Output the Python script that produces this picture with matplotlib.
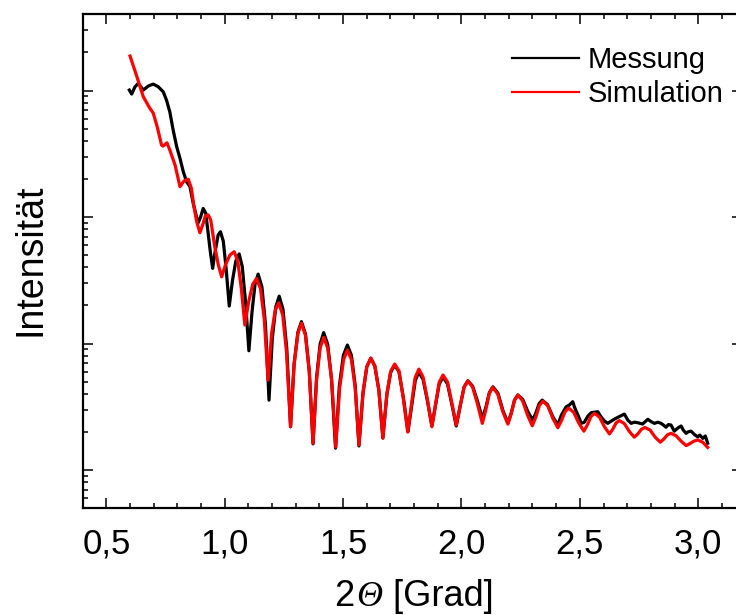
import matplotlib
matplotlib.use("Agg")
import matplotlib.pyplot as plt
from matplotlib.ticker import MultipleLocator, LogLocator, NullFormatter, FuncFormatter
from matplotlib.lines import Line2D
from matplotlib.offsetbox import TextArea, HPacker, AnnotationBbox

plt.rcParams['font.family'] = ['Liberation Sans', 'DejaVu Sans']

# Messung (measured curve), 2theta in degrees, intensity arbitrary units
x_mess = [0.597, 0.607, 0.621, 0.635, 0.656, 0.677, 0.698, 0.719, 0.740, 0.754,
          0.768, 0.782, 0.797, 0.811, 0.825, 0.839, 0.853, 0.867, 0.881, 0.888,
          0.898, 0.909, 0.920, 0.930, 0.940, 0.949, 0.958, 0.972, 0.982, 0.994,
          1.006, 1.019, 1.033, 1.047, 1.061, 1.074, 1.088, 1.102, 1.115, 1.128,
          1.141, 1.157, 1.172, 1.187, 1.201, 1.216, 1.230, 1.246, 1.262, 1.278,
          1.293, 1.309, 1.324, 1.341, 1.357, 1.373, 1.388, 1.403, 1.418, 1.435,
          1.451, 1.468, 1.484, 1.501, 1.518, 1.535, 1.551, 1.567, 1.584, 1.600,
          1.617, 1.634, 1.651, 1.668, 1.685, 1.701, 1.718, 1.736, 1.755, 1.774,
          1.790, 1.805, 1.820, 1.838, 1.857, 1.875, 1.891, 1.906, 1.922, 1.941,
          1.959, 1.978, 1.995, 2.011, 2.027, 2.047, 2.068, 2.088, 2.103, 2.118,
          2.133, 2.154, 2.175, 2.196, 2.210, 2.224, 2.238, 2.259, 2.280, 2.301,
          2.314, 2.328, 2.341, 2.363, 2.385, 2.407, 2.422, 2.442, 2.456, 2.470,
          2.479, 2.492, 2.506, 2.519, 2.534, 2.548, 2.562, 2.576, 2.589, 2.604,
          2.618, 2.633, 2.646, 2.667, 2.688, 2.703, 2.717, 2.730, 2.744, 2.765,
          2.787, 2.800, 2.815, 2.830, 2.843, 2.853, 2.864, 2.874, 2.885, 2.899,
          2.914, 2.928, 2.937, 2.949, 2.958, 2.970, 2.984, 2.998, 3.007, 3.019,
          3.030, 3.040]
y_mess = [1009, 938, 1072, 1140, 1009, 1086, 1125, 1072, 979, 841,
          679, 488, 360, 291, 228, 190, 174, 128, 100, 90.2,
          100, 117, 107, 74.3, 51.6, 39.3, 51.6, 72.1, 76.6, 64.3,
          38.9, 19.8, 31.8, 45.1, 51.1, 40.6, 21.2, 8.77, 17.6, 29.5,
          35.4, 28.1, 14.2, 3.57, 11.1, 19.6, 23.7, 18.7, 9.16, 2.20,
          6.92, 12.3, 14.9, 11.9, 6.11, 1.61, 5.42, 9.93, 12.2, 9.86,
          5.25, 1.49, 4.59, 8.05, 9.73, 8.09, 4.67, 1.55, 4.05, 6.55,
          7.67, 6.64, 4.29, 1.79, 3.97, 5.92, 6.76, 5.98, 3.69, 2.01,
          3.27, 5.12, 5.96, 5.19, 3.47, 2.23, 3.33, 4.80, 5.43, 4.80,
          3.33, 2.23, 3.23, 4.53, 5.08, 4.61, 3.49, 2.56, 3.13, 4.10,
          4.55, 4.05, 2.96, 2.36, 2.81, 3.57, 3.92, 3.61, 2.91, 2.48,
          2.82, 3.35, 3.57, 3.30, 2.66, 2.27, 2.72, 3.16, 3.27, 3.47,
          3.09, 2.72, 2.34, 2.39, 2.67, 2.84, 2.87, 2.89, 2.64, 2.44,
          2.34, 2.44, 2.53, 2.65, 2.77, 2.48, 2.34, 2.39, 2.37, 2.31,
          2.52, 2.42, 2.34, 2.39, 2.34, 2.27, 2.18, 2.29, 2.27, 2.03,
          2.15, 2.23, 2.07, 1.95, 2.01, 2.03, 1.91, 1.83, 1.89, 1.78,
          1.86, 1.63]

# Simulation
x_sim = [0.600, 0.628, 0.656, 0.684, 0.698, 0.716, 0.733, 0.739, 0.756, 0.768,
         0.790, 0.811, 0.828, 0.846, 0.859, 0.870, 0.882, 0.895, 0.908, 0.918,
         0.930, 0.941, 0.958, 0.973, 0.987, 1.004, 1.022, 1.040, 1.055, 1.070,
         1.085, 1.101, 1.118, 1.134, 1.151, 1.167, 1.183, 1.198, 1.213, 1.228,
         1.245, 1.261, 1.278, 1.293, 1.309, 1.324, 1.341, 1.357, 1.373, 1.388,
         1.403, 1.418, 1.435, 1.452, 1.469, 1.485, 1.502, 1.518, 1.535, 1.551,
         1.567, 1.584, 1.600, 1.617, 1.634, 1.651, 1.668, 1.685, 1.701, 1.718,
         1.736, 1.754, 1.773, 1.789, 1.804, 1.820, 1.838, 1.857, 1.875, 1.891,
         1.906, 1.922, 1.941, 1.959, 1.978, 1.995, 2.011, 2.027, 2.047, 2.068,
         2.088, 2.102, 2.117, 2.131, 2.153, 2.174, 2.196, 2.210, 2.224, 2.238,
         2.258, 2.279, 2.299, 2.314, 2.329, 2.344, 2.365, 2.386, 2.407, 2.422,
         2.438, 2.453, 2.474, 2.495, 2.517, 2.532, 2.547, 2.562, 2.583, 2.604,
         2.625, 2.639, 2.653, 2.667, 2.688, 2.709, 2.730, 2.745, 2.760, 2.775,
         2.797, 2.818, 2.840, 2.855, 2.870, 2.885, 2.906, 2.928, 2.949, 2.965,
         2.981, 2.998, 3.019, 3.040]
y_sim = [1875, 1303, 893, 723, 664, 506, 371, 364, 386, 339,
         258, 174, 193, 199, 169, 121, 91.2, 75.2, 88.1, 102,
         104, 94.6, 58.2, 41.8, 33.7, 42.4, 50.1, 53.2, 44.8, 27.3,
         14.0, 21.4, 29.3, 32.7, 27.2, 15.6, 5.14, 12.0, 18.3, 21.0,
         16.8, 8.53, 2.20, 6.81, 12.0, 14.5, 11.6, 6.03, 1.63, 5.19,
         9.27, 11.2, 9.20, 5.05, 1.52, 4.39, 7.45, 8.89, 7.48, 4.46,
         1.58, 4.07, 6.55, 7.67, 6.64, 4.29, 1.79, 4.02, 6.03, 6.89,
         6.08, 3.72, 2.00, 3.35, 5.36, 6.28, 5.42, 3.52, 2.20, 3.36,
         4.94, 5.64, 4.97, 3.42, 2.27, 3.26, 4.52, 5.06, 4.54, 3.31,
         2.34, 2.94, 4.01, 4.51, 4.00, 2.92, 2.31, 2.78, 3.56, 3.92,
         3.54, 2.72, 2.24, 2.62, 3.24, 3.51, 3.21, 2.56, 2.16, 2.45,
         2.90, 3.09, 2.86, 2.36, 2.03, 2.28, 2.65, 2.81, 2.62, 2.20,
         1.93, 2.10, 2.36, 2.46, 2.33, 2.02, 1.82, 1.93, 2.10, 2.17,
         2.07, 1.82, 1.66, 1.76, 1.90, 1.95, 1.87, 1.69, 1.56, 1.62,
         1.69, 1.73, 1.66, 1.51]

labels = ['Messung', 'Simulation']
colors = ['black', 'red']

fig = plt.figure(figsize=(7.36, 6.15), dpi=100)
ax = fig.add_axes([82.7 / 736, 107.3 / 615, (742 - 82.7) / 736, 493.7 / 615])

ax.plot(x_mess, y_mess, color=colors[0], lw=2.3, solid_joinstyle='round')
ax.plot(x_sim, y_sim, color=colors[1], lw=2.3, solid_joinstyle='round')

ax.set_yscale('log')
ax.set_xlim(0.4, 3.185)
ax.set_ylim(0.504, 4030)

ax.xaxis.set_major_locator(MultipleLocator(0.5))
ax.xaxis.set_minor_locator(MultipleLocator(0.1))
ax.xaxis.set_major_formatter(FuncFormatter(lambda v, p: f"{v:.1f}".replace('.', ',')))
ax.yaxis.set_major_locator(LogLocator(base=10))
ax.yaxis.set_minor_locator(LogLocator(base=10, subs=range(2, 10)))
ax.yaxis.set_major_formatter(NullFormatter())
ax.yaxis.set_minor_formatter(NullFormatter())

ax.tick_params(which='both', direction='in', top=True, right=True, width=1.1)
ax.tick_params(which='major', length=7)
ax.tick_params(which='minor', length=3.8)
ax.tick_params(axis='x', labelsize=25, pad=14)
for s in ax.spines.values():
    s.set_linewidth(1.6)

fig.text(30 / 736, 1 - 260 / 615, 'Intensität', rotation=90, fontsize=27,
         ha='center', va='center')

# x label: "2" + italic serif Theta + " [Grad]"
parts = [TextArea('2', textprops=dict(fontsize=26)),
         TextArea('Θ', textprops=dict(fontsize=26, family='Liberation Serif', style='italic')),
         TextArea(' [Grad]', textprops=dict(fontsize=26))]
xlab = HPacker(children=parts, align='baseline', pad=0, sep=1)
ab = AnnotationBbox(xlab, (414 / 736, 0.002), xycoords='figure fraction',
                    box_alignment=(0.5, 0), frameon=False, pad=0)
fig.add_artist(ab)

handles = [Line2D([], [], color=c, lw=1.6) for c in colors]
ax.legend(handles, labels, loc='upper left', bbox_to_anchor=(512 / 736, 1 - 46 / 615),
          bbox_transform=fig.transFigure, frameon=False, fontsize=21,
          borderpad=0, borderaxespad=0, handlelength=2.3, handletextpad=0.28,
          labelspacing=0.2)

fig.savefig('out.png', dpi=100)
